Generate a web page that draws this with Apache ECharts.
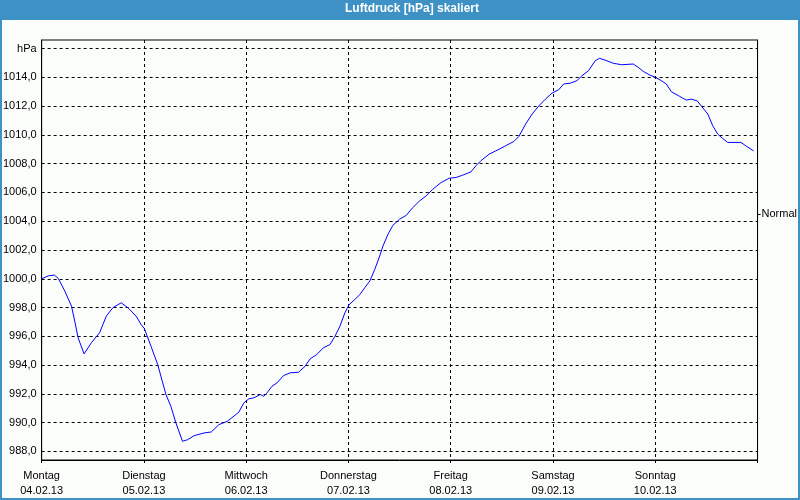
<!DOCTYPE html>
<html>
<head>
<meta charset="utf-8">
<script src="https://cdn.jsdelivr.net/npm/echarts@6/dist/echarts.min.js"></script>
<style>
html,body{margin:0;padding:0;background:#fbfdfb;}
#chart{width:800px;height:500px;}
</style>
</head>
<body>
<div id="chart"></div>
<script>
const days = ['Montag','Dienstag','Mittwoch','Donnerstag','Freitag','Samstag','Sonntag'];
const dates = ['04.02.13','05.02.13','06.02.13','07.02.13','08.02.13','09.02.13','10.02.13'];
const yTicks = [988,990,992,994,996,998,1000,1002,1004,1006,1008,1010,1012,1014,1016];
const normalLevel = 1004.5;
// hours since Monday 04.02.13 00:00
const hours = [0.0,1.56,2.96,3.9,5.44,7.0,7.77,8.56,9.96,11.67,13.6,15.17,16.73,18.67,20.23,22.17,23.33,24.1,25.67,27.23,29.17,30.33,31.5,33.06,34.23,35.77,38.1,39.83,41.6,43.56,46.27,47.44,48.6,49.77,51.33,52.1,52.9,54.06,55.23,56.77,58.33,60.27,61.83,63.0,64.56,66.1,67.67,68.83,70.0,71.17,72.17,73.5,74.67,75.83,77.0,78.17,79.33,80.1,81.27,82.43,84.0,85.56,87.1,88.67,90.23,91.77,93.73,95.67,97.23,98.77,100.73,101.9,103.06,105.0,106.56,107.33,108.9,110.83,112.0,113.56,115.1,116.67,118.23,119.77,121.33,122.5,124.06,125.6,126.77,128.33,129.9,130.9,132.23,134.17,136.1,138.83,140.0,141.17,142.73,144.04,145.44,146.6,147.77,149.73,151.27,152.43,153.83,154.77,156.33,157.5,158.67,159.83,161.0,164.1,165.27,167.07];
const hpa = [1000.0,1000.2,1000.26,1000.03,999.14,998.1,997.05,995.9,994.78,995.55,996.25,997.4,997.99,998.33,997.99,997.4,996.82,996.54,995.3,994.04,991.95,991.13,989.98,988.7,988.81,989.09,989.28,989.35,989.86,990.09,990.72,991.37,991.65,991.72,991.95,991.83,992.07,992.53,992.76,993.27,993.46,993.5,993.92,994.43,994.73,995.2,995.43,996.0,996.7,997.64,998.2,998.56,998.9,999.38,999.84,1000.65,1001.58,1002.28,1003.09,1003.72,1004.14,1004.41,1004.95,1005.41,1005.76,1006.22,1006.69,1006.99,1007.04,1007.2,1007.43,1007.85,1008.2,1008.66,1008.89,1009.0,1009.25,1009.55,1009.9,1010.75,1011.45,1012.02,1012.49,1012.91,1013.14,1013.54,1013.6,1013.77,1014.11,1014.46,1015.16,1015.33,1015.2,1014.98,1014.88,1014.93,1014.7,1014.42,1014.16,1014.0,1013.77,1013.54,1013.0,1012.68,1012.42,1012.49,1012.37,1012.02,1011.45,1010.63,1010.05,1009.75,1009.48,1009.48,1009.24,1008.89];

const seriesData = hours.map((h, i) => [h, hpa[i]]);
const FONT = 'Liberation Sans';

const chart = echarts.init(document.getElementById('chart'), null, {renderer: 'canvas'});
chart.setOption({
  backgroundColor: '#fbfdfb',
  animation: false,
  title: {
    text: 'Luftdruck [hPa] skaliert',
    left: 345,
    top: 3,
    padding: 0,
    textStyle: {color: '#ffffff', fontFamily: FONT, fontWeight: 'bold', fontSize: 12}
  },
  graphic: [
    {type: 'rect', z: 0, shape: {x: 0, y: 0, width: 800, height: 20}, style: {fill: '#3d91c4'}},
    {type: 'rect', z: 100, shape: {x: 1, y: 1, width: 798, height: 498}, style: {fill: 'none', stroke: '#3d91c4', lineWidth: 2}}
  ],
  grid: {left: 40, right: 40, top: 40, bottom: 40, show: true, borderColor: '#000', borderWidth: 1, backgroundColor: '#fbfdfb'},
  xAxis: {
    type: 'value', min: 0, max: 168, interval: 24,
    axisLine: {show: true, lineStyle: {color: '#000', width: 1}},
    axisTick: {show: true, length: 3, lineStyle: {color: '#000'}},
    axisLabel: {
      color: '#000', fontFamily: FONT, fontSize: 11, lineHeight: 15, margin: 8,
      formatter: function (v) {
        const i = Math.round(v / 24);
        return i < days.length ? days[i] + '\n' + dates[i] : '';
      }
    },
    splitLine: {show: true, lineStyle: {color: '#000', type: [3, 3], width: 1}}
  },
  yAxis: [
    {
      type: 'value', min: 987.4, max: 1016.6, position: 'left',
      axisLine: {show: true, lineStyle: {color: '#000', width: 1}},
      axisTick: {show: false, customValues: yTicks},
      axisLabel: {
        customValues: yTicks, color: '#000', fontFamily: FONT, fontSize: 11, margin: 5,
        formatter: function (v) {
          return v === 1016 ? 'hPa' : v.toFixed(1).replace('.', ',');
        }
      },
      splitLine: {show: true, lineStyle: {color: '#000', type: [3, 3], width: 1}}
    },
    {
      type: 'value', min: 987.4, max: 1016.6, position: 'right',
      axisLine: {show: true, lineStyle: {color: '#000', width: 1}},
      axisTick: {show: true, length: 3, customValues: [normalLevel], lineStyle: {color: '#000'}},
      axisLabel: {
        customValues: [normalLevel], color: '#000', fontFamily: FONT, fontSize: 11, margin: 4,
        formatter: function () { return 'Normal'; }
      },
      splitLine: {show: false}
    }
  ],
  series: [{
    type: 'line',
    data: seriesData,
    showSymbol: false,
    symbol: 'none',
    smooth: false,
    lineStyle: {color: '#0000ff', width: 1},
    z: 5
  }]
});
</script>
</body>
</html>
